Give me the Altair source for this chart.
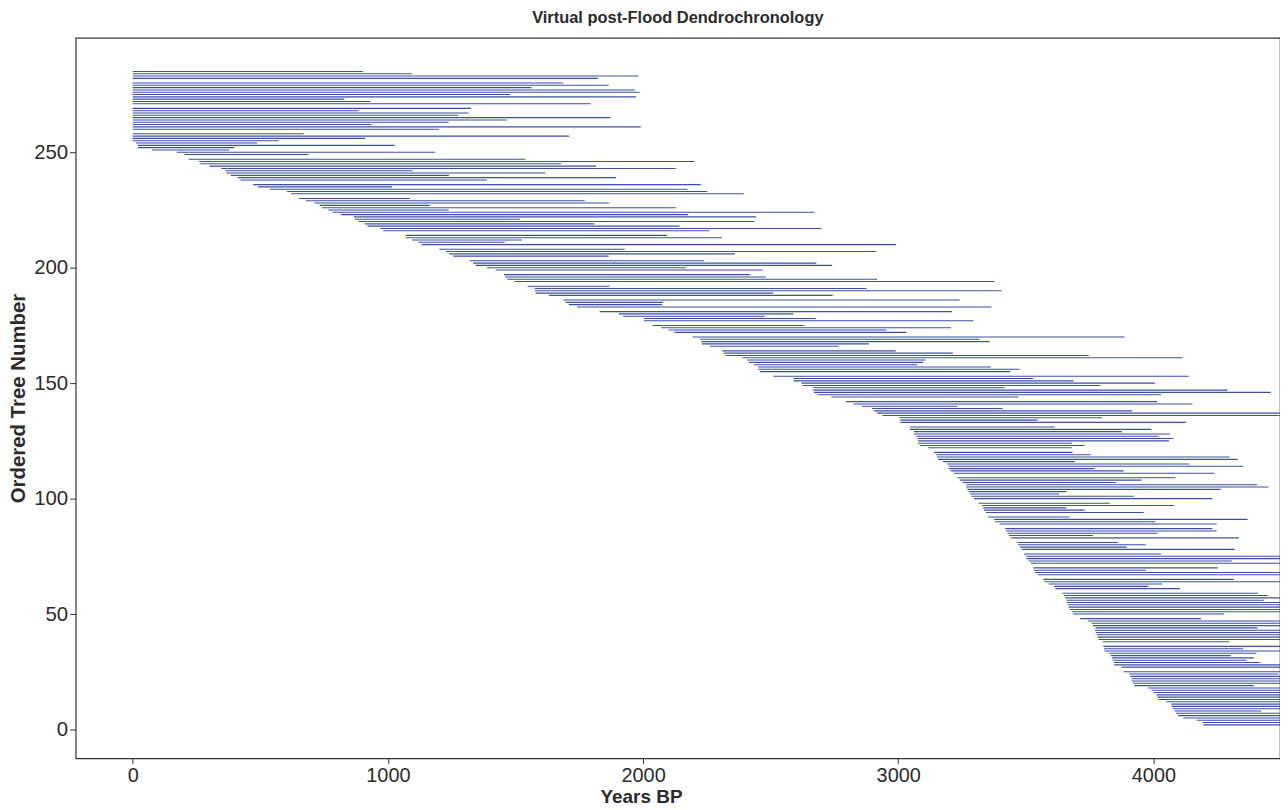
import altair as alt
import pandas as pd

EDGE = 4700  # segments running past the right edge of the panel

tree = [285, 284, 283, 282, 280, 279, 278, 277, 276, 275, 274, 273, 272, 271, 269, 268, 267, 266, 265, 264,
        263, 262, 261, 260, 258, 257, 256, 255, 254, 253, 252, 251, 250, 249, 247, 246, 245, 244, 243, 242,
        241, 240, 239, 238, 236, 235, 234, 233, 232, 230, 229, 228, 227, 226, 225, 224, 223, 222, 221, 220,
        219, 218, 217, 216, 214, 213, 212, 211, 210, 208, 207, 206, 205, 203, 202, 201, 200, 199, 197, 196,
        195, 194, 192, 191, 190, 189, 188, 186, 185, 184, 183, 181, 180, 179, 178, 177, 175, 174, 173, 172,
        170, 169, 168, 167, 166, 164, 163, 162, 161, 160, 159, 158, 157, 156, 155, 153, 152, 151, 150, 149,
        148, 147, 146, 145, 144, 142, 141, 140, 139, 138, 137, 136, 135, 134, 133, 131, 130, 129, 128, 127,
        126, 125, 124, 123, 122, 120, 119, 118, 117, 116, 115, 114, 113, 112, 111, 109, 108, 107, 106, 105,
        104, 103, 102, 101, 100, 98, 97, 96, 95, 94, 92, 91, 90, 89, 87, 86, 85, 84, 83, 81,
        80, 79, 78, 76, 75, 74, 73, 72, 70, 69, 68, 67, 65, 64, 63, 62, 61, 59, 58, 57,
        56, 55, 54, 53, 52, 51, 50, 48, 47, 46, 45, 44, 43, 42, 41, 40, 39, 38, 36, 35,
        34, 33, 32, 31, 30, 29, 28, 27, 25, 24, 23, 22, 21, 20, 19, 18, 17, 16, 15, 14,
        13, 12, 11, 10, 9, 8, 7, 6, 5, 4, 3, 2]

start = [0, 0, 0, 0, 0, 0, 0, 0, 0, 0, 0, 0, 0, 0, 0, 0, 0, 0, 0, 0,
         0, 0, 0, 0, 0, 0, 0, 0, 13, 20, 20, 76, 173, 203, 219, 260, 265, 301, 347, 363,
         367, 385, 411, 422, 472, 491, 537, 605, 621, 651, 679, 713, 733, 742, 767, 783, 816, 867, 870, 886,
         909, 920, 971, 982, 1069, 1069, 1095, 1119, 1132, 1202, 1228, 1240, 1256, 1321, 1334, 1344, 1388, 1422, 1455, 1459,
         1468, 1497, 1547, 1576, 1576, 1579, 1631, 1688, 1696, 1709, 1741, 1830, 1905, 1922, 2003, 2003, 2038, 2070, 2099, 2123,
         2194, 2223, 2228, 2231, 2262, 2310, 2316, 2323, 2390, 2407, 2415, 2434, 2452, 2451, 2458, 2511, 2589, 2589, 2621, 2625,
         2665, 2667, 2669, 2683, 2738, 2796, 2824, 2858, 2897, 2904, 2917, 2938, 3004, 3008, 3008, 3046, 3046, 3062, 3062, 3071,
         3075, 3078, 3078, 3086, 3116, 3141, 3149, 3151, 3156, 3176, 3192, 3198, 3198, 3206, 3218, 3231, 3241, 3253, 3266, 3266,
         3271, 3276, 3281, 3287, 3297, 3315, 3328, 3333, 3336, 3344, 3352, 3376, 3380, 3397, 3419, 3423, 3428, 3434, 3443, 3465,
         3469, 3477, 3484, 3493, 3500, 3503, 3511, 3520, 3529, 3531, 3535, 3547, 3568, 3572, 3589, 3611, 3615, 3643, 3650, 3654,
         3659, 3660, 3664, 3668, 3672, 3680, 3685, 3713, 3743, 3758, 3763, 3773, 3771, 3774, 3778, 3781, 3785, 3801, 3804, 3806,
         3808, 3827, 3833, 3838, 3840, 3844, 3846, 3875, 3883, 3905, 3910, 3914, 3915, 3920, 3925, 3979, 3992, 4000, 4012, 4016,
         4020, 4050, 4070, 4071, 4075, 4083, 4088, 4096, 4117, 4170, 4193, 4195]

end = [902, 1094, 1982, 1824, 1687, 1866, 1563, 1968, 1986, 1479, 1972, 829, 932, 1795, 1326, 886, 1316, 1276, 1872, 1467,
       1238, 936, 1991, 1200, 670, 1710, 911, 572, 488, 1027, 398, 378, 1185, 689, 1539, 2202, 1679, 1816, 2128, 1098,
       1617, 1239, 1894, 1388, 2226, 1016, 2174, 2251, 2394, 1086, 1771, 1867, 1164, 2128, 1238, 2671, 2177, 2443, 1517, 2435,
       1809, 2143, 2699, 2260, 2094, 2309, 1525, 1458, 2991, 1928, 2913, 2360, 1865, 2239, 2679, 2741, 2167, 2468, 2418, 2481,
       2917, 3377, 1868, 2876, 3405, 2510, 2743, 3241, 2078, 2074, 3365, 3210, 2588, 2477, 2676, 3294, 2630, 3207, 2954, 3032,
       3887, 3318, 3358, 2885, 2766, 2990, 3214, 3746, 4115, 3107, 3098, 3074, 3363, 3475, 3438, 4138, 3529, 3687, 4006, 3792,
       3417, 4290, 4460, 4030, 3471, 4014, 4153, 3231, 3409, 3916, EDGE, 4495, 3799, 3546, 4127, 3613, 3991, 3877, 4065, 4019,
       4077, 4061, 3682, 3731, 3680, 3683, 3754, 4298, 4330, 3692, 4140, 4352, 3769, 3883, 4239, 4086, 3953, 3854, 4407, 4451,
       4264, 3659, 3630, 3924, 4231, 3829, 4082, 3659, 3730, 3962, 3671, 4369, 4007, 4248, 4231, 4248, 4016, 3763, 4335, 3862,
       3970, 3895, 4319, 4030, EDGE, EDGE, 4307, EDGE, 4252, 3971, EDGE, EDGE, 4315, EDGE, 4034, 3980, 4104, 4410, 4448, EDGE,
       4432, EDGE, EDGE, EDGE, EDGE, EDGE, 4277, 4186, EDGE, EDGE, EDGE, 4408, EDGE, EDGE, EDGE, EDGE, EDGE, 4297, EDGE, 4352,
       EDGE, 4404, 4303, 4394, 4365, 4419, EDGE, EDGE, EDGE, 4490, EDGE, EDGE, EDGE, EDGE, 4394, EDGE, EDGE, EDGE, EDGE, EDGE,
       EDGE, EDGE, EDGE, EDGE, EDGE, 4422, EDGE, EDGE, EDGE, EDGE, EDGE, EDGE]

x_ticks = [0, 1000, 2000, 3000, 4000]
y_ticks = [0, 50, 100, 150, 200, 250]

df = pd.DataFrame({"tree": tree, "start": start, "end": end})

FONT = "Liberation Sans"
TXT = "#2b2b2b"

chart = (
    alt.Chart(df)
    .mark_rule(color="#3A4FA6", strokeWidth=1.1, clip=True)
    .encode(
        x=alt.X(
            "start:Q",
            scale=alt.Scale(domain=[-223.5, 4496], nice=False, zero=False),
            axis=alt.Axis(
                title="Years BP", values=x_ticks, format="d", grid=False, domain=False,
                tickSize=5, tickColor=TXT, labelColor=TXT, labelFontSize=20,
                labelFont=FONT, labelPadding=2, titleFont=FONT, titleFontSize=19,
                titleFontWeight="bold", titleColor=TXT, titleX=568, titleY=44,
                titleAlign="center", titleBaseline="alphabetic", labelFlush=False,
            ),
        ),
        x2="end:Q",
        y=alt.Y(
            "tree:Q",
            scale=alt.Scale(domain=[-12.5, 299.6], nice=False, zero=False),
            axis=alt.Axis(
                title="Ordered Tree Number", values=y_ticks, grid=False, domain=False,
                tickSize=6, tickColor=TXT, labelColor=TXT, labelFontSize=20.5,
                labelFont=FONT, labelPadding=2, titleFont=FONT, titleFontSize=20.5,
                titleFontWeight="bold", titleColor=TXT, titleX=-51, titleY=362,
                titleAlign="center", titleBaseline="alphabetic", labelFlush=False,
            ),
        ),
    )
    .properties(
        width=1210,
        height=724,
        title=alt.TitleParams(
            "Virtual post-Flood Dendrochronology", font=FONT, fontSize=16.5,
            fontWeight="bold", color=TXT, anchor="middle", offset=11,
        ),
        autosize=alt.AutoSizeParams(type="none"),
        padding={"left": 68, "top": 28, "right": 0, "bottom": 48},
    )
    .configure_view(stroke="#333333", strokeWidth=1.2)
)

chart.save("out.html", embed_options={"renderer": "svg", "actions": False})
